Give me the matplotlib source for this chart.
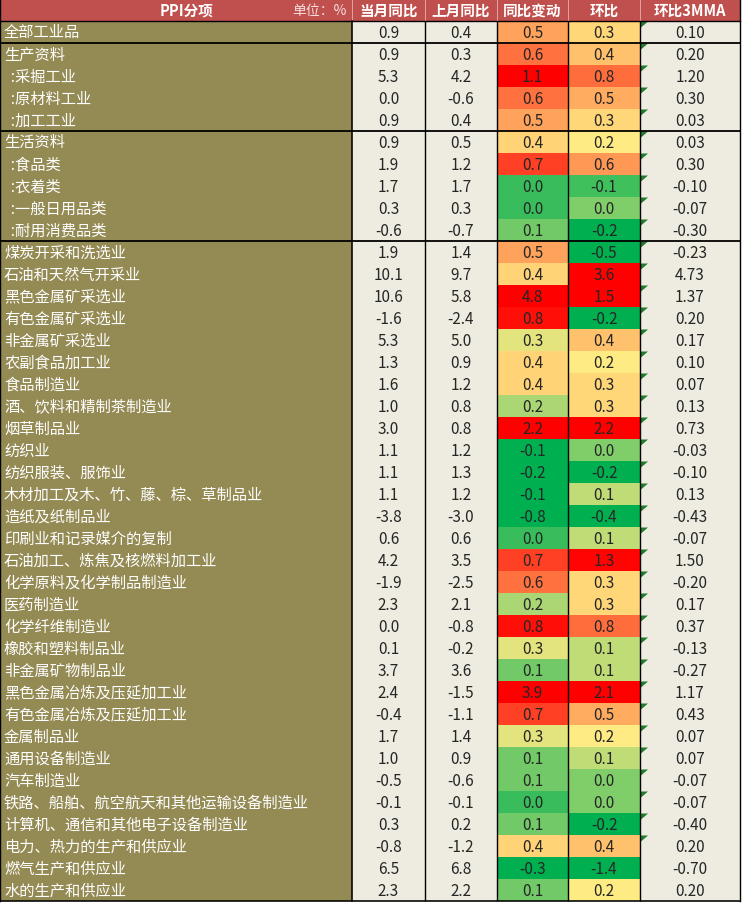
import numpy as np
import matplotlib
matplotlib.use("Agg")
import matplotlib.pyplot as plt
from matplotlib.patches import Rectangle, Polygon

plt.rcParams['font.family'] = ['Noto Sans CJK SC', 'DejaVu Sans']

# ---------------- data ----------------
header_title = 'PPI分项'
header_unit = '单位：%'
col_names = ['当月同比', '上月同比', '同比变动', '环比', '环比3MMA']

labels = ['全部工业品', '生产资料', '  :采掘工业', '  :原材料工业', '  :加工工业',
          '生活资料', '  :食品类', '  :衣着类', '  :一般日用品类', '  :耐用消费品类',
          '煤炭开采和洗选业', '石油和天然气开采业', '黑色金属矿采选业', '有色金属矿采选业',
          '非金属矿采选业', '农副食品加工业', '食品制造业', '酒、饮料和精制茶制造业',
          '烟草制品业', '纺织业', '纺织服装、服饰业', '木材加工及木、竹、藤、棕、草制品业',
          '造纸及纸制品业', '印刷业和记录媒介的复制', '石油加工、炼焦及核燃料加工业',
          '化学原料及化学制品制造业', '医药制造业', '化学纤维制造业', '橡胶和塑料制品业',
          '非金属矿物制品业', '黑色金属冶炼及压延加工业', '有色金属冶炼及压延加工业',
          '金属制品业', '通用设备制造业', '汽车制造业',
          '铁路、船舶、航空航天和其他运输设备制造业', '计算机、通信和其他电子设备制造业',
          '电力、热力的生产和供应业', '燃气生产和供应业', '水的生产和供应业']

yoy_cur = [0.9, 0.9, 5.3, 0.0, 0.9, 0.9, 1.9, 1.7, 0.3, -0.6, 1.9, 10.1, 10.6, -1.6, 5.3,
           1.3, 1.6, 1.0, 3.0, 1.1, 1.1, 1.1, -3.8, 0.6, 4.2, -1.9, 2.3, 0.0, 0.1, 3.7,
           2.4, -0.4, 1.7, 1.0, -0.5, -0.1, 0.3, -0.8, 6.5, 2.3]
yoy_prev = [0.4, 0.3, 4.2, -0.6, 0.4, 0.5, 1.2, 1.7, 0.3, -0.7, 1.4, 9.7, 5.8, -2.4, 5.0,
            0.9, 1.2, 0.8, 0.8, 1.2, 1.3, 1.2, -3.0, 0.6, 3.5, -2.5, 2.1, -0.8, -0.2, 3.6,
            -1.5, -1.1, 1.4, 0.9, -0.6, -0.1, 0.2, -1.2, 6.8, 2.2]
yoy_chg = [0.5, 0.6, 1.1, 0.6, 0.5, 0.4, 0.7, 0.0, 0.0, 0.1, 0.5, 0.4, 4.8, 0.8, 0.3,
           0.4, 0.4, 0.2, 2.2, -0.1, -0.2, -0.1, -0.8, 0.0, 0.7, 0.6, 0.2, 0.8, 0.3, 0.1,
           3.9, 0.7, 0.3, 0.1, 0.1, 0.0, 0.1, 0.4, -0.3, 0.1]
mom = [0.3, 0.4, 0.8, 0.5, 0.3, 0.2, 0.6, -0.1, 0.0, -0.2, -0.5, 3.6, 1.5, -0.2, 0.4,
       0.2, 0.3, 0.3, 2.2, 0.0, -0.2, 0.1, -0.4, 0.1, 1.3, 0.3, 0.3, 0.8, 0.1, 0.1,
       2.1, 0.5, 0.2, 0.1, 0.0, 0.0, -0.2, 0.4, -1.4, 0.2]
mom_3mma = [0.10, 0.20, 1.20, 0.30, 0.03, 0.03, 0.30, -0.10, -0.07, -0.30, -0.23, 4.73,
            1.37, 0.20, 0.17, 0.10, 0.07, 0.13, 0.73, -0.03, -0.10, 0.13, -0.43, -0.07,
            1.50, -0.20, 0.17, 0.37, -0.13, -0.27, 1.17, 0.43, 0.07, 0.07, -0.07, -0.07,
            -0.40, 0.20, -0.70, 0.20]
group_ends = [0, 4, 9]          # rows after which a thick separator is drawn
flag_rows = list(range(0, 38))  # rows with the small green corner marker

# ---------------- style ----------------
W, H = 743, 904
HEADER_H = 22
ROW_H = 22
label_x0, label_x1 = 0, 352
col_edges = [352, 425, 497, 568, 640, 740]
C_HEADER = '#C0504D'
C_LABEL = '#948A54'
C_CELL = '#EEECE1'
C_TEXT = '#262626'
GREEN = np.array([0, 176, 80]) / 255
YELLOW = np.array([255, 235, 132]) / 255
RED = np.array([255, 0, 0]) / 255


def color_scale(values):
    v = np.asarray(values, float)
    lo, mid, hi = np.percentile(v, 10), np.percentile(v, 50), np.percentile(v, 90)
    out = []
    for x in v:
        if x <= mid:
            t = 0.0 if mid == lo else np.clip((x - lo) / (mid - lo), 0, 1)
            c = GREEN + t * (YELLOW - GREEN)
        else:
            t = 1.0 if hi == mid else np.clip((x - mid) / (hi - mid), 0, 1)
            c = YELLOW + t * (RED - YELLOW)
        out.append(tuple(c))
    return out


fig = plt.figure(figsize=(W / 100, H / 100), dpi=100)
ax = fig.add_axes([0, 0, 1, 1])
ax.set_xlim(0, W)
ax.set_ylim(H, 0)
ax.axis('off')

n = len(labels)
table_bottom = HEADER_H + n * ROW_H

# header
ax.add_patch(Rectangle((0, 0), col_edges[-1], HEADER_H, color=C_HEADER, lw=0))
ax.text(187, HEADER_H / 2, header_title, ha='center', va='center',
        color='white', fontsize=10.5, fontweight='bold')
ax.text(label_x1 - 5, HEADER_H / 2, header_unit, ha='right', va='center',
        color='#F4DEDD', fontsize=10, style='italic')
for j, name in enumerate(col_names):
    cx = (col_edges[j] + col_edges[j + 1]) / 2
    ax.text(cx, HEADER_H / 2, name, ha='center', va='center', color='white',
            fontsize=10.5, fontweight='bold')

# body backgrounds
ax.add_patch(Rectangle((label_x0, HEADER_H), label_x1 - label_x0, n * ROW_H,
                       color=C_LABEL, lw=0))
ax.add_patch(Rectangle((col_edges[0], HEADER_H), col_edges[-1] - col_edges[0], n * ROW_H,
                       color=C_CELL, lw=0))

chg_colors = color_scale(yoy_chg)
mom_colors = color_scale(mom)

columns = [yoy_cur, yoy_prev, yoy_chg, mom, mom_3mma]
fmts = ['{:.1f}', '{:.1f}', '{:.1f}', '{:.1f}', '{:.2f}']

for i in range(n):
    top = HEADER_H + i * ROW_H
    cy = top + ROW_H / 2
    ax.text(label_x0 + 4, cy, labels[i], ha='left', va='center', color='white',
            fontsize=11)
    for j, vals in enumerate(columns):
        x0, x1 = col_edges[j], col_edges[j + 1]
        if j == 2:
            ax.add_patch(Rectangle((x0, top), x1 - x0, ROW_H, color=chg_colors[i], lw=0))
        elif j == 3:
            ax.add_patch(Rectangle((x0, top), x1 - x0, ROW_H, color=mom_colors[i], lw=0))
        ax.text((x0 + x1) / 2, cy + 0.5, fmts[j].format(vals[i]), ha='center', va='center',
                color=C_TEXT, fontsize=11)
    if i in flag_rows:
        x0 = col_edges[4] + 1
        ax.add_patch(Polygon([(x0, top + 0.5), (x0 + 7, top + 0.5), (x0, top + 6.5)],
                             closed=True, color='#1F7A2A', lw=0))

# lines
px = 0.72
for xe in col_edges[1:5]:
    ax.plot([xe, xe], [HEADER_H, table_bottom], color='black', lw=1.4 * px,
            solid_capstyle='butt')
    ax.plot([xe, xe], [0, HEADER_H], color='#E8B5B3', lw=0.8 * px)
ax.plot([label_x1, label_x1], [0, HEADER_H], color='#E8B5B3', lw=0.8 * px)
ax.plot([label_x1, label_x1], [HEADER_H, table_bottom], color='black', lw=1.6 * px)
ax.plot([col_edges[-1], col_edges[-1]], [0, table_bottom], color='black', lw=1.4 * px)
ax.plot([0, 0], [0, table_bottom], color='black', lw=1.4 * px)
ax.plot([0, col_edges[-1]], [HEADER_H, HEADER_H], color='black', lw=1.4 * px)
ax.plot([0, col_edges[-1]], [table_bottom - 0.5, table_bottom - 0.5], color='black', lw=1.6 * px)
for g in group_ends:
    y = HEADER_H + (g + 1) * ROW_H
    ax.plot([0, col_edges[-1]], [y, y], color='black', lw=1.8 * px)

fig.savefig('out.png', dpi=100)
